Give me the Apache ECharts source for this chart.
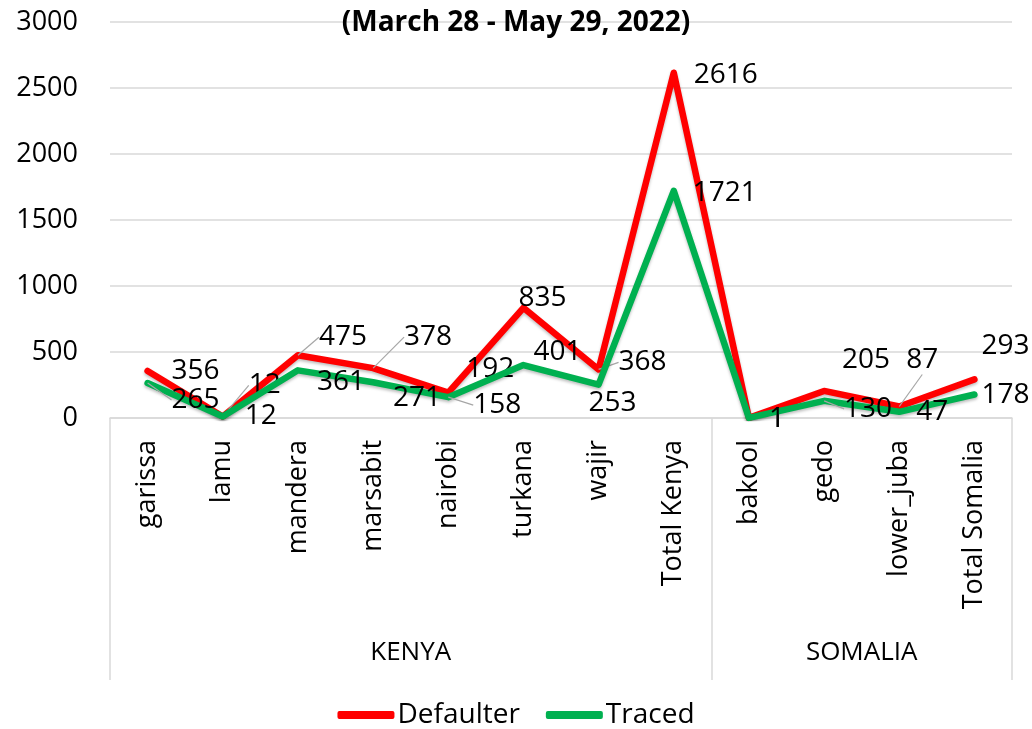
<!DOCTYPE html>
<html>
<head>
<meta charset="utf-8">
<script src="https://cdn.jsdelivr.net/npm/echarts@6/dist/echarts.min.js"></script>
<style>
  html, body { margin: 0; padding: 0; background: #fff; }
  #chart { width: 1032px; height: 729px; }
</style>
</head>
<body>
<div id="chart"></div>
<script>
// data
const categories = ['garissa', 'lamu', 'mandera', 'marsabit', 'nairobi', 'turkana', 'wajir', 'Total Kenya',
  'bakool', 'gedo', 'lower_juba', 'Total Somalia'];
const defaulter = [356, 12, 475, 378, 192, 835, 368, 2616, 1, 205, 87, 293];
const traced = [265, 12, 361, 271, 158, 401, 253, 1721, 1, 130, 47, 178];
const groups = ['KENYA', 'SOMALIA'];
const groupSizes = [8, 4];
const yTicks = [0, 500, 1000, 1500, 2000, 2500, 3000];

// where Excel put the data labels (px from the point) and which ones got a leader line
const defaulterLabelOffsets = [[48, 0], [42, -31], [45, -18], [55, -31], [42, -24], [19, -10], [44, -7],
  [52, 2], [28, 1], [42, -31], [23, -46], [31, -33]];
const defaulterLeader = [0, 1, 1, 1, 0, 0, 1, 0, 0, 0, 1, 0];
const tracedLabelOffsets = [[48, 17], [38, 0], [43, 12], [44, 16], [49, 8], [34, -13], [14, 18],
  [51, 2], [28, 1], [44, 8], [33, 0], [31, 1]];
const tracedLeader = [1, 0, 0, 0, 1, 0, 0, 0, 0, 1, 0, 0];

const FONT = '"Open Sans", "Noto Sans", sans-serif';

// group boundaries / centres on a 0..n value scale
let bounds = [0];
let centres = [];
groupSizes.forEach((s, i) => {
  centres.push(bounds[i] + s / 2);
  bounds.push(bounds[i] + s);
});

function withLabels(values, leader) {
  return values.map((v, i) => ({
    value: v,
    labelLine: { show: !!leader[i] }
  }));
}

function layoutFrom(offsets) {
  return function (params) {
    const o = offsets[params.dataIndex];
    return { dx: o[0], dy: o[1] };
  };
}

const chart = echarts.init(document.getElementById('chart'));

const option = {
  animation: false,
  title: {
    text: '(March 28 - May 29, 2022)',
    left: 'center',
    top: 4,
    textStyle: { fontFamily: FONT, fontSize: 28, fontWeight: 'bold', color: '#000' }
  },
  legend: {
    bottom: 0,
    left: 'center',
    padding: 0,
    icon: 'roundRect',
    itemWidth: 57,
    itemHeight: 8,
    itemGap: 26,
    textStyle: { fontFamily: FONT, fontSize: 28, color: '#000', padding: [0, 0, 0, -2] },
    data: ['Defaulter', 'Traced']
  },
  grid: { left: 110, right: 20, top: 22, bottom: 311 },
  xAxis: [
    {
      type: 'category',
      data: categories,
      boundaryGap: true,
      axisLine: { show: true, lineStyle: { color: '#D9D9D9', width: 1.5 } },
      axisTick: { show: false },
      axisLabel: {
        rotate: 90,
        margin: 22,
        interval: 0,
        fontFamily: FONT,
        fontSize: 27,
        color: '#000'
      }
    },
    {
      type: 'value',
      position: 'bottom',
      min: bounds[0],
      max: bounds[bounds.length - 1],
      axisLine: { show: false },
      splitLine: { show: false },
      axisTick: {
        show: true,
        customValues: bounds,
        length: 262,
        lineStyle: { color: '#D9D9D9', width: 1.5 }
      },
      axisLabel: {
        customValues: centres,
        margin: 222,
        fontFamily: FONT,
        fontSize: 26,
        color: '#000',
        formatter: function (v) {
          const k = centres.indexOf(v);
          return k >= 0 ? groups[k] : '';
        }
      }
    }
  ],
  yAxis: {
    type: 'value',
    min: yTicks[0],
    max: yTicks[yTicks.length - 1],
    interval: 500,
    axisLine: { show: false },
    axisTick: { show: false },
    splitLine: { lineStyle: { color: '#D9D9D9', width: 1.5 } },
    axisLabel: {
      margin: 32, fontFamily: FONT, fontSize: 27, color: '#000',
      formatter: function (v) { return String(v); }
    }
  },
  series: [
    {
      name: 'Defaulter',
      type: 'line',
      data: withLabels(defaulter, defaulterLeader),
      symbol: 'circle',
      symbolSize: 0.1,
      itemStyle: { color: '#FF0000' },
      lineStyle: { color: '#FF0000', width: 6.5, cap: 'round', join: 'round',
        shadowColor: 'rgba(0,0,0,0.25)', shadowBlur: 3, shadowOffsetY: 2 },
      label: {
        show: true,
        position: 'inside',
        fontFamily: FONT,
        fontSize: 28,
        color: '#000'
      },
      labelLine: { show: false, lineStyle: { color: '#A6A6A6', width: 1.2 } },
      labelLayout: layoutFrom(defaulterLabelOffsets),
      z: 2
    },
    {
      name: 'Traced',
      type: 'line',
      data: withLabels(traced, tracedLeader),
      symbol: 'circle',
      symbolSize: 0.1,
      itemStyle: { color: '#00B050' },
      lineStyle: { color: '#00B050', width: 6.5, cap: 'round', join: 'round',
        shadowColor: 'rgba(0,0,0,0.25)', shadowBlur: 3, shadowOffsetY: 2 },
      label: {
        show: true,
        position: 'inside',
        fontFamily: FONT,
        fontSize: 28,
        color: '#000'
      },
      labelLine: { show: false, lineStyle: { color: '#A6A6A6', width: 1.2 } },
      labelLayout: layoutFrom(tracedLabelOffsets),
      z: 3
    }
  ]
};

chart.setOption(option);
</script>
</body>
</html>
